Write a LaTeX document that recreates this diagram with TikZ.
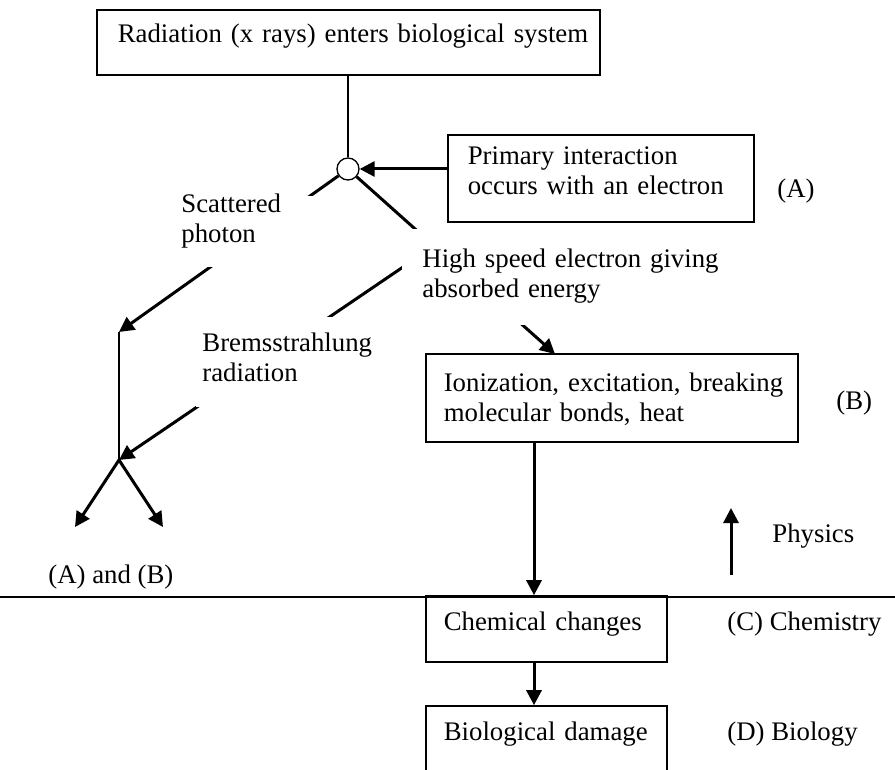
\documentclass[tikz,border=0pt]{standalone}
\usepackage{fontspec}
\setmainfont{Liberation Serif}
\usetikzlibrary{arrows.meta}
\begin{document}
\begin{tikzpicture}[x=0.5pt,y=-0.5pt,
  every node/.style={font=\fontsize{13.4}{15}\selectfont},
  thinline/.style={line width=0.65pt},
  thickarrow/.style={line width=1.5pt,-{Triangle[length=7.5pt,width=7.5pt]}},
  thickline/.style={line width=1.5pt},
  boxnode/.style={draw,line width=0.8pt,rectangle,anchor=base west,align=left,inner ysep=0pt},
  masklabel/.style={fill=white,rectangle,anchor=base west,align=left,inner ysep=0pt},
  plainlabel/.style={anchor=base west,inner sep=0pt}]
\useasboundingbox (0,0) rectangle (895,770);
\clip (0,0) rectangle (895,770);
% boxes
\node[boxnode,inner xsep=10.5pt,text width=230.5pt,text height=16.5pt,text depth=16pt] (top) at (96,43)
  {\mbox{Radiation (x rays) enters biological system}};
\node[boxnode,inner xsep=10pt,text width=133pt,text height=15pt,text depth=28.5pt] (prim) at (447,165)
  {\mbox{Primary interaction}\\\mbox{occurs with an electron}};
\node[boxnode,inner xsep=9pt,text width=168pt,text height=19pt,text depth=25pt] (ion) at (425,392)
  {\mbox{Ionization, excitation, breaking}\\\mbox{molecular bonds, heat}};
\node[boxnode,inner xsep=9pt,text width=102.5pt,text height=17pt,text depth=16pt] (chem) at (425,630)
  {\mbox{Chemical changes}};
\node[boxnode,inner xsep=9pt,text width=102.5pt,text height=17pt,text depth=25pt] (bio) at (425,740)
  {\mbox{Biological damage}};
\node[circle,draw,thinline,minimum size=11pt,inner sep=0pt] (c) at (348,169) {};
% side labels
\node[plainlabel] (la) at (777,198) {(A)};
\node[plainlabel] (lb) at (836,409) {(B)};
\node[plainlabel] (phys) at (772,542) {Physics};
\node[plainlabel] (lc) at (727,630) {(C) Chemistry};
\node[plainlabel] (ld) at (727,740) {(D) Biology};
\node[plainlabel] (lab) at (48,583) {(A) and (B)};
% coordinates
\coordinate (sc) at (119,332);
\coordinate (fork) at (119,460);
\coordinate (fl) at (75,527);
\coordinate (fr) at (163,527);
\coordinate (ein) at (555,354);
\coordinate (bs) at (434,246);
\coordinate (pb) at (731,575);
\coordinate (pt) at (731,508);
\coordinate (hl0) at (0,597);
\coordinate (hl1) at (895,597);
\coordinate (ax) at (534,0);
% connectors
\draw[thinline] (c |- top.south) -- (c);
\draw[thickarrow] (prim.west |- c) -- (c);
\draw[thickarrow] (c) -- (sc);
\draw[thinline] (sc) -- (fork);
\draw[thickarrow] (c) -- (ein);
\draw[thickarrow] (bs) -- (fork);
\draw[thickarrow] (fork) -- (fl);
\draw[thickarrow] (fork) -- (fr);
\draw[thickarrow] (ion.south -| ax) -- (chem.north -| ax);
\draw[thickarrow] (chem.south -| ax) -- (bio.north -| ax);
\draw[thickarrow] (pb) -- (pt);
\draw[thinline] (hl0) -- (hl1);
% labels over lines
\node[masklabel,inner xsep=3pt,text width=64pt,text height=8.5pt,text depth=27pt] (scat) at (175,213)
  {Scattered\\photon};
\node[masklabel,inner xsep=3pt,text width=86pt,text height=17.5pt,text depth=27.5pt] (brems) at (196,352)
  {\mbox{Bremsstrahlung}\\radiation};
\node[masklabel,inner xsep=10pt,text width=139pt,text height=19.5pt,text depth=28.5pt] (hse) at (402,268)
  {\mbox{High speed electron giving}\\\mbox{absorbed energy}};
\end{tikzpicture}
\end{document}
